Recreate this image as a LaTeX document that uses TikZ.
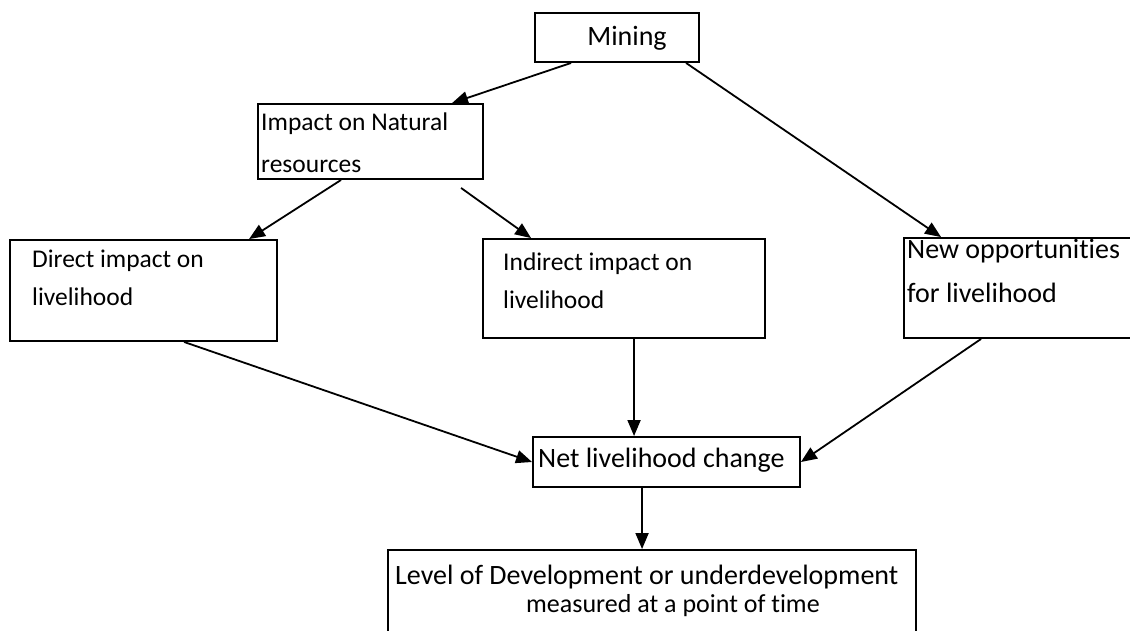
\documentclass[tikz,border=0pt]{standalone}
\usepackage{fontspec}
\setmainfont{Carlito}[Ligatures=NoCommon]
\usetikzlibrary{arrows.meta,calc,fit}
\begin{document}
\begin{tikzpicture}[x=1pt,y=-1pt,
  box/.style={draw, line width=1.9pt, rectangle, inner sep=0pt},
  conn/.style={line width=1.8pt, -{Triangle[length=16pt,width=13pt]}},
  txt/.style={inner sep=0pt, anchor=base west, font=\fontsize{25.5}{30}\selectfont},
  bigtxt/.style={txt, font=\fontsize{28}{33}\selectfont}]
\useasboundingbox (0,0) rectangle (1130,630);
\clip (0,0) rectangle (1130,630);

% boxes
\node[box, fit={(535,13) (699,62)}] (mining) {};
\node[box, fit={(258,104) (483,179)}] (impact) {};
\node[box, fit={(10,240) (277,341)}] (direct) {};
\node[box, fit={(483,239) (765,338)}] (indirect) {};
\node[box, fit={(904,238) (1145,338)}] (newopp) {};
\node[box, fit={(533,437) (800,487)}] (net) {};
\node[box, fit={(388,550) (916,645)}] (level) {};

% labels
\node[bigtxt, anchor=base] (miningA) at (627,45) {Mining};
\node[txt] (impactA) at (261,130) {Impact on Natural};
\node[txt] (impactB) at (261,172) {resources};
\node[txt] (directA) at (32,267) {Direct impact on};
\node[txt] (directB) at (32,305) {livelihood};
\node[txt] (indirectA) at (503,270) {Indirect impact on};
\node[txt] (indirectB) at (503,308) {livelihood};
\node[bigtxt] (newoppA) at (907,258) {New opportunities};
\node[bigtxt] (newoppB) at (907,302) {for livelihood};
\node[bigtxt] (netA) at (538,467) {Net livelihood change};
\node[bigtxt] (levelA) at (395,584) {Level of Development or underdevelopment};
\node[txt, font=\fontsize{26}{31}\selectfont] (levelB) at (526,612) {measured at a point of time};

% connectors
\draw[conn] ($(mining.south west)+(37,0)$) -- ($(impact.north west)+(195,0)$);
\draw[conn] ($(mining.south west)+(152,0)$) -- ($(newopp.north west)+(38,0)$);
\draw[conn] ($(impact.south west)+(84,0)$) -- ($(direct.north west)+(240,0)$);
\draw[conn] ($(impact.south west)+(204,8)$) -- ($(indirect.north west)+(49,0)$);
\draw[conn] ($(direct.south west)+(175,0)$) -- (net.west);
\draw[conn] ($(indirect.south west)+(152,0)$) -- ($(net.north west)+(102,0)$);
\draw[conn] ($(newopp.south west)+(78,0)$) -- (net.east);
\draw[conn] ($(net.south west)+(110,0)$) -- ($(level.north west)+(255,0)$);
\end{tikzpicture}
\end{document}
